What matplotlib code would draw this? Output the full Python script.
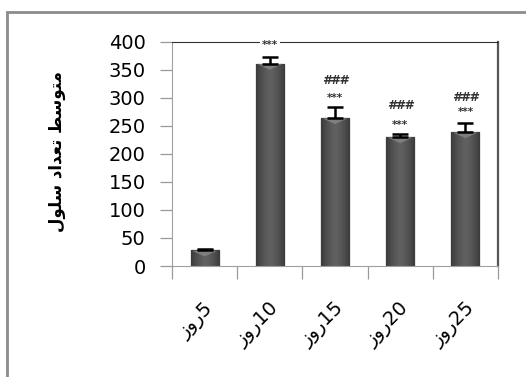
import matplotlib
matplotlib.use("Agg")
from matplotlib import pyplot as plt
import matplotlib.patches as patches
import numpy as np

# data
days = ["5", "10", "15", "20", "25"]
means = [28, 361, 264, 230, 239]
errs = [3, 12, 19, 6, 16]
stars = ["", "***", "***", "***", "***"]
hashes = ["", "", "###", "###", "###"]
star_y = [0, 395, 300, 252, 274]
hash_y = [0, 0, 331, 286, 300]

# Arabic written in visual (left-to-right) order, presentation forms
ROOZ = "\u0632\u0648\u0631"   # "روز"
YLABEL = ("\uFEDD\uFEEE\uFEE0\uFEB3 "
          "\uFEA9\uFE8D\uFEAA\uFECC\uFE97 "
          "\uFEC2\uFEB3\uFEEE\uFE98\uFEE3")  # "متوسط تعداد سلول"

plt.rcParams['font.family'] = ['DejaVu Sans']

fig = plt.figure(figsize=(5.26, 3.77), dpi=100)

# outer grey frame (only top and left edges visible)
frame = patches.Rectangle((7 / 526, -0.1), 1.2, 1 - 12 / 377 + 0.1,
                          transform=fig.transFigure, fill=False,
                          edgecolor='#8c8c8c', linewidth=2.0)
fig.patches.append(frame)

ax = fig.add_axes([172 / 526, 1 - 266 / 377, (498 - 172) / 526, (266 - 41.7) / 377])

x = list(range(len(days)))
w = 0.43
bars = ax.bar(x, means, width=w, color='#4a4a4a', edgecolor='#2e2e2e', linewidth=0.9,
              yerr=[[0] * len(errs), errs], capsize=6,
              error_kw=dict(ecolor='black', elinewidth=1.8, capthick=1.8, zorder=4))

# horizontal shading inside each bar, plus a lighter bevel at the top
shade = 0.38 - 0.15 * np.abs(np.linspace(-1, 1, 64))[None, :] ** 1.5
for i, b in enumerate(bars):
    im = ax.imshow(shade, cmap='gray', vmin=0, vmax=1, aspect='auto',
                   interpolation='bilinear',
                   extent=(b.get_x(), b.get_x() + w, 0, means[i]), zorder=2.5)
    im.set_clip_path(b)
    tri = patches.Polygon([(i - w / 2 + 0.03, means[i] - 1), (i + w / 2 - 0.03, means[i] - 1),
                           (i, means[i] - 11)], closed=True,
                          facecolor='#7e7e7e', edgecolor='none', zorder=3)
    ax.add_patch(tri)

for i in x:
    if stars[i]:
        ax.text(i, star_y[i], stars[i], ha='center', va='center', fontsize=7.5,
                fontweight='bold', color='#333333',
                bbox=dict(facecolor='white', edgecolor='none', pad=1.5))
    if hashes[i]:
        ax.text(i, hash_y[i], hashes[i], ha='center', va='center', fontsize=9,
                fontstyle='italic', fontweight='bold', color='#333333')

ax.set_xlim(-0.5, len(days) - 0.5)
ax.set_ylim(0, 400)
ax.set_yticks(range(0, 401, 50))
ax.tick_params(axis='y', labelsize=14, length=9, width=0.9, color='#9a9a9a', pad=10)

ax.set_xticks(x)
ax.set_xticklabels([ROOZ + d for d in days], rotation=45, ha='right',
                   rotation_mode='anchor', fontsize=14)
ax.tick_params(axis='x', length=0, pad=24)
ax.set_xticks([i - 0.5 for i in range(len(days) + 1)], minor=True)
ax.tick_params(axis='x', which='minor', length=9, width=0.9, color='#9a9a9a',
               direction='out')

ax.spines['left'].set_color('#a0a0a0')
ax.spines['bottom'].set_color('#a0a0a0')
ax.spines['top'].set_color('#333333')
ax.spines['right'].set_color('#555555')
ax.spines['right'].set_linewidth(1.6)

fig.text(57 / 526, 1 - 151 / 377, YLABEL, rotation=90, ha='center', va='center',
         fontsize=12, fontweight='bold')

fig.savefig("out.png", dpi=100)
